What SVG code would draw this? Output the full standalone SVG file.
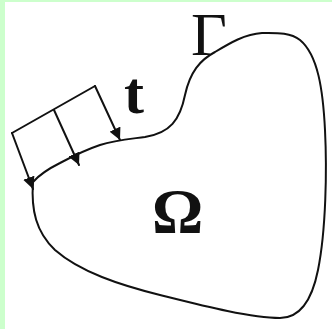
<svg xmlns="http://www.w3.org/2000/svg" width="332" height="329" viewBox="0 0 332 329">
<style>
.ln{fill:none;stroke:#111;stroke-width:2;stroke-linejoin:round;stroke-linecap:round}
.lbl{font-family:"Liberation Serif","Times New Roman",serif;fill:#111}
</style>
<defs>
<marker id="ah" markerUnits="userSpaceOnUse" markerWidth="13" markerHeight="12" refX="12" refY="6" orient="auto">
<path d="M0,0 L12,6 L0,12 Z" fill="#111"/>
</marker>
</defs>
<rect x="0" y="0" width="332" height="329" fill="#fff"/>
<rect x="0" y="0" width="5" height="329" fill="#ccffcc"/>
<rect x="0" y="0" width="332" height="2" fill="#ccffcc"/>
<g id="boundary">
<path class="ln" d="M33,182 C31,210 36,232 55,250 C80,272 120,285 160,295 C200,305 250,318 280,318 C300,318 312,300 318,270 C326,230 327,170 325,130 C323,90 318,55 300,40 C290,32 275,33 262,33 C245,34 230,43 215,52 C200,60 190,72 185,95 C180,120 170,133 145,137 C130,139 115,140 100,145 C85,150 75,155 60,163 C50,168 40,174 33,182 Z"/>
</g>
<g id="connectors">
<path class="ln" d="M12,133 L95,86"/>
<path class="ln" d="M12,133 L33,189" marker-end="url(#ah)"/>
<path class="ln" d="M54,110 L79,165" marker-end="url(#ah)"/>
<path class="ln" d="M95,86 L120,140" marker-end="url(#ah)"/>
</g>
<g id="labels">
<text class="lbl" x="191" y="55" font-size="62">Γ</text>
<text class="lbl" x="124" y="113" font-size="60" font-weight="bold">t</text>
<text class="lbl" x="152" y="233" font-size="64" font-weight="bold">Ω</text>
</g>
</svg>
